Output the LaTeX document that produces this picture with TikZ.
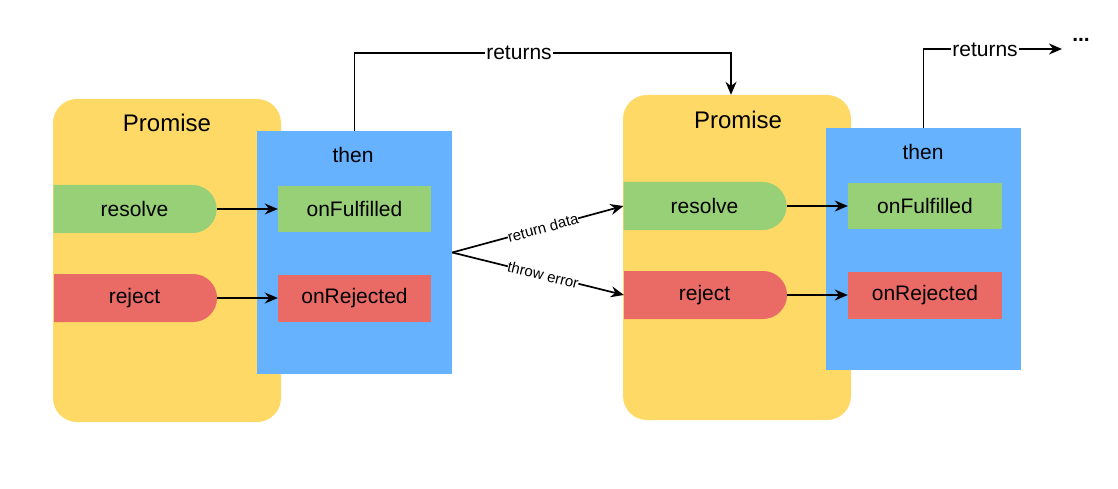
\documentclass[tikz,border=0pt]{standalone}
\usepackage{fontspec}
\setmainfont{Liberation Sans}
\usetikzlibrary{arrows.meta,shapes.misc}
\definecolor{pyellow}{HTML}{FFD966}
\definecolor{pblue}{HTML}{66B2FF}
\definecolor{pgreen}{HTML}{97D077}
\definecolor{pred}{HTML}{EA6B66}
\tikzset{
  promisebox/.style={fill=pyellow, rounded corners=24pt, inner sep=0pt, minimum width=228pt},
  thenbox/.style={fill=pblue, inner sep=0pt, minimum width=195pt},
  callbox/.style={rounded rectangle, rounded rectangle left arc=none, inner sep=0pt, minimum width=163pt, minimum height=48pt, font=\fontsize{21}{24}\selectfont},
  handlerbox/.style={inner sep=0pt, minimum width=153pt, minimum height=46pt, font=\fontsize{21}{24}\selectfont},
  titletext/.style={font=\fontsize{24}{28}\selectfont, inner sep=0pt},
  thentext/.style={font=\fontsize{21}{24}\selectfont, inner sep=0pt},
  conn/.style={line width=1.7pt, -{Stealth[length=13pt,width=11pt]}},
  linelabel/.style={fill=white, inner sep=1pt, font=\fontsize{21}{24}\selectfont},
  smalllabel/.style={fill=white, inner sep=0pt, font=\fontsize{15}{18}\selectfont, sloped},
}
\begin{document}
\begin{tikzpicture}[x=1pt,y=-1pt]
\useasboundingbox (0,0) rectangle (1118,489);
% left group
\node[promisebox, minimum height=323pt] (promL) at (167,260.5) {};
\node[thenbox, minimum height=243pt] (thenL) at (354.5,252.5) {};
\node[titletext] (promLt) at (167,123) {Promise};
\node[thentext] (thenLt) at (353,155) {then};
\node[callbox, fill=pgreen] (resL) at (134.5,209) {resolve};
\node[callbox, fill=pred] (rejL) at (134.5,298) {reject};
\node[handlerbox, fill=pgreen] (fulL) at (354.5,209) {onFulfilled};
\node[handlerbox, fill=pred, minimum height=47pt] (rjhL) at (354.5,298.5) {onRejected};
\draw[conn] (resL.east) -- (fulL.west |- resL.east);
\draw[conn] (rejL.east) -- (rjhL.west |- rejL.east);
% right group
\node[promisebox, minimum height=325pt] (promR) at (737,257.5) {};
\node[thenbox, minimum height=242pt] (thenR) at (923.5,249) {};
\node[titletext] (promRt) at (738,120) {Promise};
\node[thentext] (thenRt) at (923,152) {then};
\node[callbox, fill=pgreen] (resR) at (704.5,206) {resolve};
\node[callbox, fill=pred] (rejR) at (704.5,295) {reject};
\node[handlerbox, fill=pgreen, minimum width=154pt] (fulR) at (925,206) {onFulfilled};
\node[handlerbox, fill=pred, minimum width=154pt, minimum height=47pt] (rjhR) at (925,295.5) {onRejected};
\draw[conn] (resR.east) -- (fulR.west |- resR.east);
\draw[conn] (rejR.east) -- (rjhR.west |- rejR.east);
% returns (left to right)
\coordinate (ret1) at (731,53);
\draw[conn] (thenL.north) |- (ret1) -- (ret1 |- promR.north);
\node[linelabel] (retlab1) at (519,53) {returns};
% return data / throw error
\draw[conn] (thenL.east) -- node[smalllabel, pos=0.53] (rdlab) {return data} (resR.west);
\draw[conn] (thenL.east) -- node[smalllabel, pos=0.53] (telab) {throw error} (rejR.west);
% returns (right to ...)
\node[inner sep=0pt, font=\fontsize{21}{24}\selectfont\bfseries] (dots) at (1081,40) {...};
\coordinate (ret2) at (1062,49);
\draw[conn] (thenR.north) |- (ret2);
\node[linelabel] (retlab2) at (985,50) {returns};
\end{tikzpicture}
\end{document}
